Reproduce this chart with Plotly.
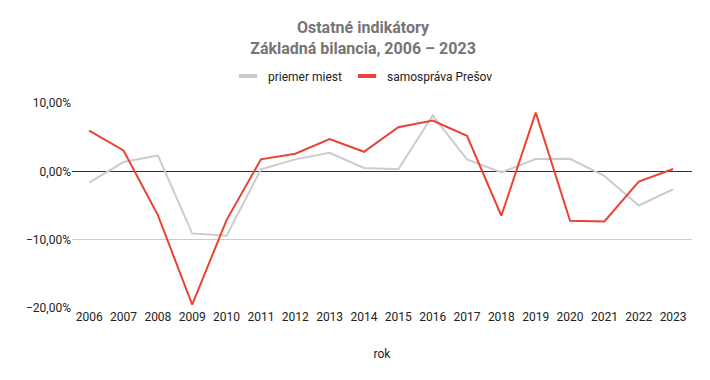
import plotly.graph_objects as go

years = [str(y) for y in range(2006, 2024)]
priemer_miest = [-0.0165, 0.0136, 0.0233, -0.0908, -0.0942, 0.0029, 0.0175, 0.0272, 0.0049,
                 0.0029, 0.0816, 0.0175, -0.0015, 0.0180, 0.0184, -0.0068, -0.0500, -0.0262]
samosprava_presov = [0.0597, 0.0306, -0.0641, -0.1950, -0.0714, 0.0175, 0.0257, 0.0471, 0.0286,
                     0.0646, 0.0743, 0.0519, -0.0650, 0.0859, -0.0723, -0.0733, -0.0150, 0.0034]
y_ticks = [-0.2, -0.1, 0.0, 0.1]

series = [("priemer miest", priemer_miest, "#cccccc"),
          ("samospráva Prešov", samosprava_presov, "#ea4335")]

fig = go.Figure()
for name, vals, color in series:
    fig.add_trace(go.Scatter(x=years, y=vals, mode="lines", name=name, legendgroup=name,
                             showlegend=False, line=dict(color=color, width=2)))
for name, vals, color in series:
    fig.add_trace(go.Scatter(x=[None], y=[None], mode="markers", name=name, legendgroup=name,
                             marker=dict(symbol="line-ew", size=13, color=color,
                                         line=dict(color=color, width=4))))

fig.update_layout(
    width=710, height=380,
    margin=dict(l=64, r=26, t=95, b=80, autoexpand=False),
    paper_bgcolor="white", plot_bgcolor="white",
    separators=", ",
    font=dict(family="Roboto, Arial, sans-serif", size=12, color="#222222"),
    title=dict(text="<b>Ostatné indikátory<br>Základná bilancia, 2006 – 2023</b>",
               x=0.5, xref="container", xanchor="center", y=0.935, yref="container",
               yanchor="top", font=dict(size=16, color="#757575")),
    legend=dict(orientation="h", x=0.5, xref="container", xanchor="center",
                y=0.821, yref="container", yanchor="middle",
                font=dict(size=12, color="#222222"), itemwidth=30),
    showlegend=True,
)
fig.update_xaxes(type="category", range=[-0.5, 17.55], showgrid=False, showline=False,
                 ticks="", tickangle=0, dtick=1, tickfont=dict(size=12, color="#222222"),
                 title=dict(text="rok", font=dict(size=12, color="#222222"), standoff=26))
fig.update_yaxes(range=[-0.2, 0.1], tickvals=y_ticks, tickformat=".2%",
                 showgrid=True, gridcolor="#cccccc", gridwidth=1,
                 zeroline=True, zerolinecolor="#333333", zerolinewidth=1,
                 showline=False, ticks="", tickfont=dict(size=12, color="#222222"))

fig.write_html("out.html")
